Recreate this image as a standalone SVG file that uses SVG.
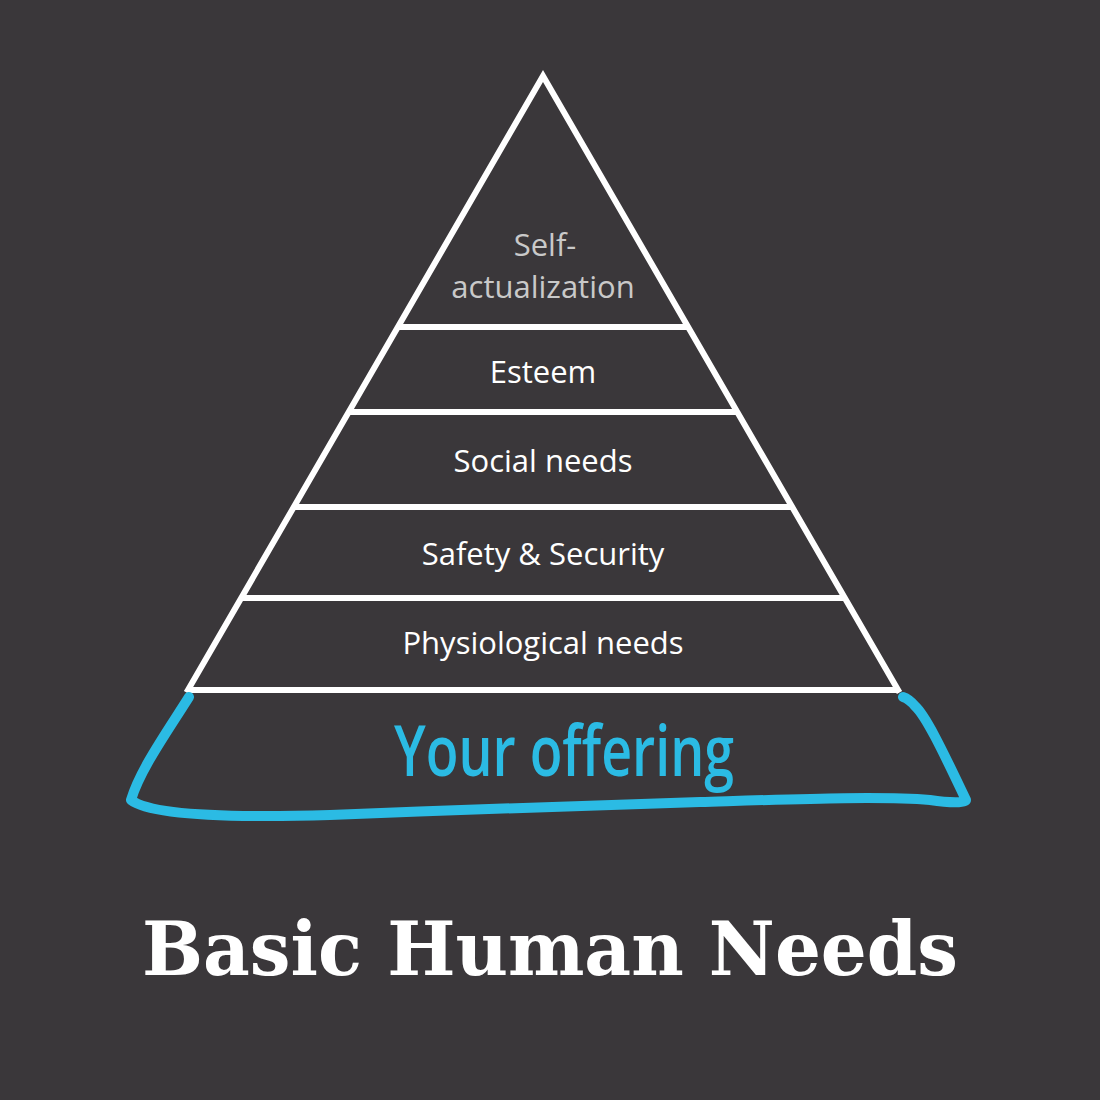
<svg xmlns="http://www.w3.org/2000/svg" width="1100" height="1100" viewBox="0 0 1100 1100">
<style>
.edge{stroke:#ffffff;stroke-width:6;fill:none;stroke-linecap:square}
.lbl{font-family:"Open Sans","Noto Sans",sans-serif;font-size:31px;fill:#ffffff;text-anchor:middle}
.gray{fill:#c9c9c9}
.blue{stroke:#2bbbe4;stroke-width:10;fill:none;stroke-linecap:round;stroke-linejoin:round}
</style>
<rect width="1100" height="1100" fill="#3a373a"/>
<g id="connectors">
<path class="edge" d="M188,690 L543,76 L898,690"/>
<path class="edge" d="M400,327 L686,327"/>
<path class="edge" d="M351,412 L735,412"/>
<path class="edge" d="M296,507 L790,507"/>
<path class="edge" d="M243,598 L843,598"/>
<path class="edge" d="M190,690 L896,690"/>
</g>
<g id="self-actualization">
<text class="lbl gray" x="545" y="256">Self-</text>
<text class="lbl gray" x="543" y="298">actualization</text>
</g>
<g id="esteem"><text class="lbl" x="543" y="383">Esteem</text></g>
<g id="social"><text class="lbl" x="543" y="472">Social needs</text></g>
<g id="safety"><text class="lbl" x="543" y="565">Safety &amp; Security</text></g>
<g id="physiological"><text class="lbl" x="543" y="654">Physiological needs</text></g>
<g id="offering">
<path class="blue" d="M189,697 C165,735 140,770 131,800 C150,815 230,818 330,815 C450,810 560,806 700,802 C800,799 880,796 930,800 C950,803 966,803 966,800 C940,745 925,715 915,706 C910,700 906,698 903,697"/>
<text x="564" y="776" font-family="Open Sans, sans-serif" font-weight="600" font-size="70" fill="#2bbbe4" text-anchor="middle" textLength="340" lengthAdjust="spacingAndGlyphs">Your offering</text>
</g>
<g id="title">
<text x="550" y="975" font-family="DejaVu Serif, serif" font-weight="bold" font-size="74" fill="#ffffff" text-anchor="middle" textLength="816" lengthAdjust="spacingAndGlyphs">Basic Human Needs</text>
</g>
</svg>
